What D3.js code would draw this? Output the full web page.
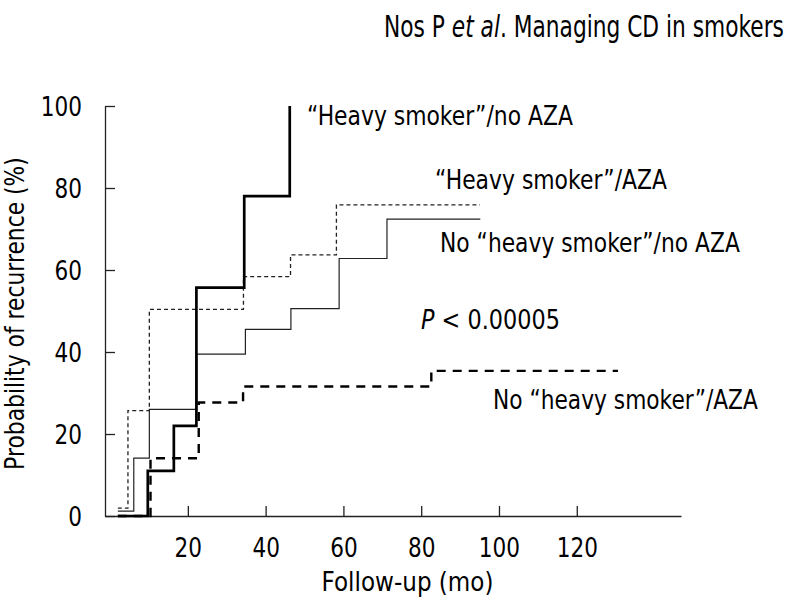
<!DOCTYPE html>
<html>
<head>
<meta charset="utf-8">
<script src="https://cdn.jsdelivr.net/npm/d3@7"></script>
<style>
	body { margin: 0; background: #fff; }
	text { font-family: "DejaVu Sans", Verdana, sans-serif; fill: #000; }
</style>
</head>
<body>
<div id="chart"></div>
<script>
// months at which each curve steps, and recurrence (%) from that month on
var heavyNoAzaMonths = [2, 9.7, 16.4, 22.2, 34.5, 46.2];
var heavyNoAzaPct = [0, 11.0, 22.0, 55.7, 78.0, 100];

var heavyAzaMonths = [2, 4.6, 10.1, 34.3, 46.4, 58.2, 95.1];
var heavyAzaPct = [1.9, 25.7, 50.4, 58.4, 63.7, 75.9, 75.9];

var noHeavyNoAzaMonths = [2, 6.1, 10.1, 22.3, 34.8, 46.5, 58.9, 71.2, 95.2];
var noHeavyNoAzaPct = [1.2, 14.1, 26.0, 39.5, 45.5, 50.6, 62.8, 72.4, 72.4];

var noHeavyAzaMonths = [2, 10.4, 22.8, 34.2, 82.6, 130.6];
var noHeavyAzaPct = [0, 14.1, 27.7, 31.6, 35.4, 35.4];

var xTicks = [20, 40, 60, 80, 100, 120];
var yTicks = [0, 20, 40, 60, 80, 100];

var width = 787, height = 603;

var svg = d3.select("#chart").append("svg")
	.attr("width", width)
	.attr("height", height);

var x = d3.scaleLinear().domain([-1.3, 146.8]).range([105, 681]);
var y = d3.scaleLinear().domain([0, 100]).range([516, 106]);

// the original face is narrower than DejaVu, so squeeze text sideways
// (done with a transform so the box of the text stays right)
function squeeze(sel, px, py, targetW, rot) {
	var w = sel.node().getComputedTextLength();
	var k = targetW ? targetW / w : 0.8;
	sel.attr("x", 0).attr("y", 0)
		.attr("transform", "translate(" + px + "," + py + ")" + (rot ? " rotate(" + rot + ")" : "") + " scale(" + k + ",1)");
	return sel;
}

// axes, ticks point inward
var xAxis = svg.append("g")
	.attr("transform", "translate(0," + y(0) + ")")
	.call(d3.axisBottom(x).tickValues(xTicks).tickSize(-10).tickSizeOuter(0).tickPadding(22));

var yAxis = svg.append("g")
	.attr("transform", "translate(" + x.range()[0] + ",0)")
	.call(d3.axisLeft(y).tickValues(yTicks).tickSize(-10).tickSizeOuter(0).tickPadding(23));

[xAxis, yAxis].forEach(function (g) {
	g.selectAll("path, line").attr("stroke", "#222").attr("stroke-width", 1.3);
	g.selectAll("text")
		.style("font-size", "27px")
		.attr("fill", "#000")
		.attr("font-family", "DejaVu Sans, Verdana, sans-serif");
});
xAxis.selectAll("text").each(function () {
	squeeze(d3.select(this), 0, 22, null).attr("dy", "0.71em");
});
yAxis.selectAll("text").each(function () {
	squeeze(d3.select(this), -23, 0, null).attr("dy", "0.37em");
});

// curves
var line = d3.line()
	.x(function (d) { return x(d[0]); })
	.y(function (d) { return y(d[1]); })
	.curve(d3.curveStepAfter);

var curves = [
	{ months: noHeavyNoAzaMonths, pct: noHeavyNoAzaPct, w: 1.2, dash: null, color: "#222" },
	{ months: heavyAzaMonths, pct: heavyAzaPct, w: 1.3, dash: "4,3", color: "#222" },
	{ months: noHeavyAzaMonths, pct: noHeavyAzaPct, w: 2.4, dash: "9,7", color: "#000" },
	{ months: heavyNoAzaMonths, pct: heavyNoAzaPct, w: 2.7, dash: null, color: "#000" }
];

curves.forEach(function (c) {
	svg.append("path")
		.datum(d3.zip(c.months, c.pct))
		.attr("d", line)
		.attr("fill", "none")
		.attr("stroke", c.color)
		.attr("stroke-width", c.w)
		.attr("stroke-dasharray", c.dash);
});

// curve labels
function label(txt, px, py, len) {
	var t = svg.append("text").style("font-size", "27px").text(txt);
	return squeeze(t, px, py, len);
}

label("\u201CHeavy smoker\u201D/no AZA", 307, 125, 266);
label("\u201CHeavy smoker\u201D/AZA", 435, 188.5, 232);
label("No \u201Cheavy smoker\u201D/no AZA", 440, 251.5, 300);
label("No \u201Cheavy smoker\u201D/AZA", 493, 408.5, 265);

var pText = svg.append("text").style("font-size", "27px");
pText.append("tspan").style("font-style", "italic").text("P");
pText.append("tspan").text(" < 0.00005");
squeeze(pText, 421, 328.5, 139);

// title
var title = svg.append("text").style("font-size", "30px");
title.append("tspan").text("Nos P ");
title.append("tspan").style("font-style", "italic").text("et al");
title.append("tspan").text(". Managing CD in smokers");
squeeze(title, 384, 36.5, 400);

// axis titles
var xTitle = svg.append("text")
	.attr("text-anchor", "middle")
	.style("font-size", "27px")
	.text("Follow-up (mo)");
squeeze(xTitle, 407.5, 591, 172);

var yTitle = svg.append("text")
	.attr("text-anchor", "middle")
	.style("font-size", "27px")
	.text("Probability of recurrence (%)");
squeeze(yTitle, 24, 313.5, 313, -90);
</script>
</body>
</html>
